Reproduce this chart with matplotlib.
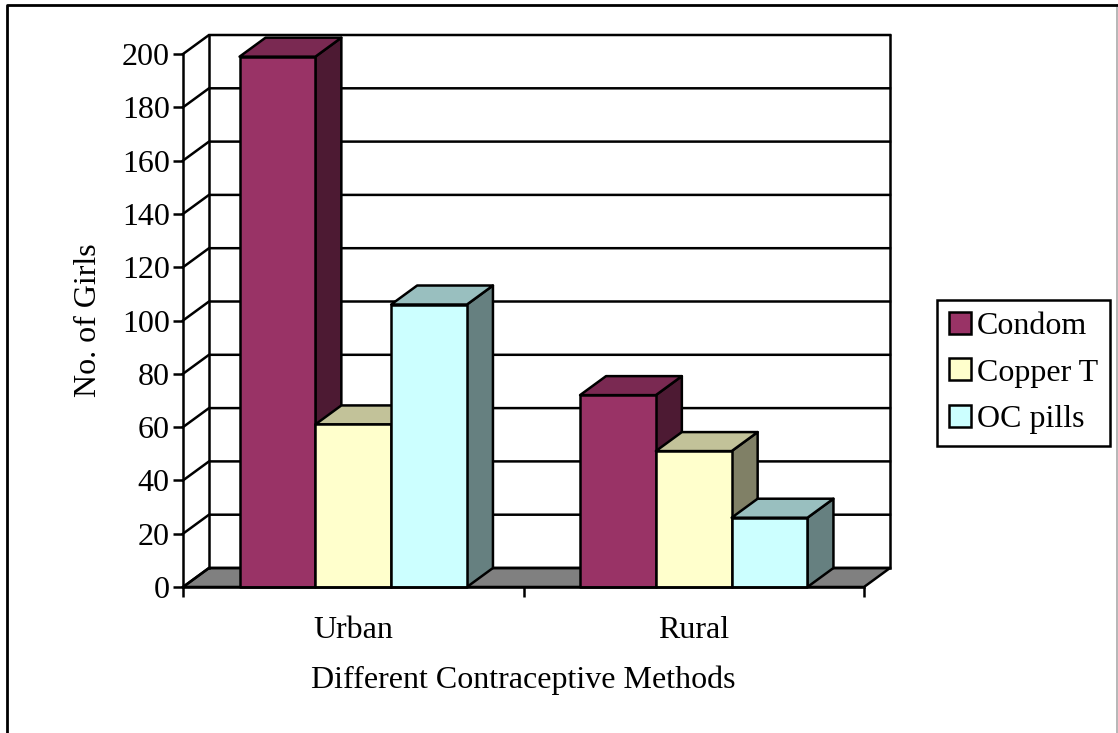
import matplotlib
matplotlib.use("Agg")
import matplotlib.pyplot as plt
from matplotlib.patches import Polygon, Patch
from matplotlib.transforms import ScaledTranslation

categories = ["Urban", "Rural"]
series_names = ["Condom", "Copper T", "OC pills"]
condom = [199, 72]
copper_t = [61, 51]
oc_pills = [106, 26]
y_ticks = list(range(0, 201, 20))

front_colors = ["#993366", "#FFFFCC", "#CCFFFF"]
top_colors = ["#7A2952", "#C2C299", "#99BFBF"]
side_colors = ["#4D1A33", "#808066", "#668080"]
floor_color = "#808080"

W, H = 1118, 733
plt.rcParams["font.family"] = ["Liberation Serif", "DejaVu Serif"]
FS = 23
LW = 1.8

fig = plt.figure(figsize=(W / 100, H / 100), dpi=100, facecolor="white")
# Outer chart frame
fig.add_artist(plt.Line2D([1117 / W, 1117 / W], [0, 1 - 5 / H],
                          color="#aaaaaa", lw=1.2, transform=fig.transFigure))
fig.add_artist(plt.Line2D([6.5 / W, 6.5 / W, 1117 / W], [0, 1 - 5 / H, 1 - 5 / H],
                          color="black", lw=2.0, transform=fig.transFigure))

L, R, T, B = 183, 864, 54, 587
ax = fig.add_axes([L / W, 1 - B / H, (R - L) / W, (B - T) / H])
ax.set_xlim(0, 2)
ax.set_ylim(0, 200)
ax.patch.set_visible(False)
for s in ["top", "right"]:
    ax.spines[s].set_visible(False)
for s in ["left", "bottom"]:
    ax.spines[s].set_linewidth(LW)
    ax.spines[s].set_zorder(30)

# Depth of the oblique projection, in data units
DX = 26 / ((R - L) / 2)
DY = 19 / ((B - T) / 200)
BAR_W = 75.8 / ((R - L) / 2)


def poly(pts, color, z):
    ax.add_patch(Polygon(pts, closed=True, facecolor=color, edgecolor="black",
                         lw=LW, joinstyle="round", clip_on=False, zorder=z))


# Floor and walls
poly([(0, 0), (2, 0), (2 + DX, DY), (DX, DY)], floor_color, 1)
for v in y_ticks:
    ax.plot([0, DX, 2 + DX], [v, v + DY, v + DY], color="black", lw=LW,
            clip_on=False, zorder=2, solid_joinstyle="miter")
ax.plot([DX, DX], [DY, 200 + DY], color="black", lw=LW, clip_on=False, zorder=2)
ax.plot([2 + DX, 2 + DX], [DY, 200 + DY], color="black", lw=LW, clip_on=False, zorder=2)

# Bars
series = [condom, copper_t, oc_pills]
z = 5
for c in range(len(categories)):
    centre = c + 0.5
    for i, vals in enumerate(series):
        x0 = centre + (i - 1.5) * BAR_W
        x1 = x0 + BAR_W
        v = vals[c]
        poly([(x1, 0), (x1 + DX, DY), (x1 + DX, v + DY), (x1, v)], side_colors[i], z)
        poly([(x0, v), (x1, v), (x1 + DX, v + DY), (x0 + DX, v + DY)], top_colors[i], z + 1)
        poly([(x0, 0), (x1, 0), (x1, v), (x0, v)], front_colors[i], z + 2)
        z += 3

# Axes
ax.set_yticks(y_ticks)
ax.set_yticklabels([str(v) for v in y_ticks], fontsize=FS)
shift = ScaledTranslation(0, -2.5 / 100, fig.dpi_scale_trans)
for lab in ax.get_yticklabels():
    lab.set_transform(lab.get_transform() + shift)
ax.set_xticks([0, 1, 2])
ax.set_xticklabels([])
ax.set_xticks([0.5, 1.5], minor=True)
ax.set_xticklabels(categories, minor=True, fontsize=FS)
ax.tick_params(axis="x", which="major", length=7, width=LW, direction="out")
ax.tick_params(axis="x", which="minor", length=0, pad=21)
ax.tick_params(axis="y", length=7, width=LW, pad=2.5)
ax.set_xlabel("Different Contraceptive Methods", fontsize=FS)
ax.set_ylabel("No. of Girls", fontsize=FS)
ax.xaxis.set_label_coords(0.5, (B - 680) / (B - T), transform=ax.transAxes)
ax.xaxis.label.set_va("center")
ax.yaxis.set_label_coords((89 - L) / (R - L), 0.5, transform=ax.transAxes)
ax.yaxis.label.set_va("center")

# Legend
handles = [Patch(facecolor=c, edgecolor="black", lw=LW) for c in front_colors]
leg = fig.legend(handles, series_names, loc="upper left",
                 bbox_to_anchor=(937 / W, 1 - 300 / H), borderaxespad=0,
                 fontsize=FS, frameon=True, fancybox=False, framealpha=1,
                 edgecolor="black", handlelength=0.68, handleheight=0.68,
                 handletextpad=0.2, labelspacing=0.545, borderpad=0.37)
leg.get_frame().set_linewidth(LW)

fig.savefig("out.png", dpi=100)
